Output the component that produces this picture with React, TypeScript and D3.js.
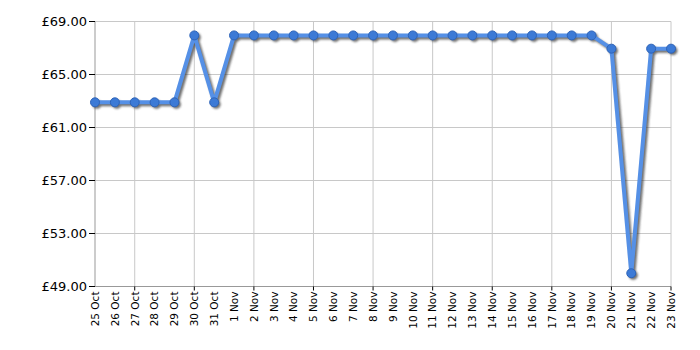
import React from "react";
import * as d3 from "d3";

const dates = [
  "25 Oct", "26 Oct", "27 Oct", "28 Oct", "29 Oct", "30 Oct", "31 Oct",
  "1 Nov", "2 Nov", "3 Nov", "4 Nov", "5 Nov", "6 Nov", "7 Nov", "8 Nov",
  "9 Nov", "10 Nov", "11 Nov", "12 Nov", "13 Nov", "14 Nov", "15 Nov",
  "16 Nov", "17 Nov", "18 Nov", "19 Nov", "20 Nov", "21 Nov", "22 Nov", "23 Nov",
];
const prices = [
  62.9, 62.9, 62.9, 62.9, 62.9, 67.95, 62.9,
  67.95, 67.95, 67.95, 67.95, 67.95, 67.95, 67.95, 67.95,
  67.95, 67.95, 67.95, 67.95, 67.95, 67.95, 67.95,
  67.95, 67.95, 67.95, 67.95, 66.95, 50.0, 66.95, 66.95,
];
const yTicks = [49, 53, 57, 61, 65, 69];

const W = 700, H = 350;
const left = 95, right = 671, top = 21.5, bottom = 286.5;

export default function App() {
  const x = d3.scalePoint<string>().domain(dates).range([left, right]);
  const y = d3.scaleLinear().domain([49, 69]).range([bottom, top]);
  const line = d3.line<number>().x((_, i) => x(dates[i])!).y((d) => y(d));
  const path = line(prices) || "";
  const gridDates = dates.filter((_, i) => i >= 2 && (i - 2) % 3 === 0);
  const font = "Verdana, 'DejaVu Sans', sans-serif";

  return (
    <svg width={W} height={H} style={{ position: "absolute", left: 0, top: 0 }}>
      <defs>
        <filter id="sh" x="-10%" y="-10%" width="120%" height="120%">
          <feGaussianBlur stdDeviation="1" />
        </filter>
      </defs>
      <rect width={W} height={H} fill="#fff" />
      {yTicks.filter((t) => t !== 49).map((t) => (
        <line key={t} x1={left} x2={right} y1={y(t)} y2={y(t)} stroke="#c8c8c8" />
      ))}
      {gridDates.map((d) => (
        <line key={d} x1={x(d)} x2={x(d)} y1={top} y2={bottom} stroke="#c8c8c8" />
      ))}
      <line x1={left} x2={left} y1={top} y2={bottom} stroke="#999" />
      <line x1={left} x2={right} y1={bottom} y2={bottom} stroke="#999" />
      {yTicks.map((t) => (
        <g key={t}>
          <line x1={left - 6} x2={left} y1={y(t)} y2={y(t)} stroke="#000" />
          <text x={left - 8} y={y(t)} dy="0.35em" textAnchor="end" fontFamily={font} fontSize={13} fill="#000">
            {"£" + t.toFixed(2)}
          </text>
        </g>
      ))}
      {gridDates.map((d) => (
        <line key={"t" + d} x1={x(d)} x2={x(d)} y1={bottom} y2={bottom + 4} stroke="#000" />
      ))}
      {dates.map((d) => (
        <text
          key={"l" + d}
          transform={`translate(${x(d)! + 3.8},${bottom + 5}) rotate(-90)`}
          textAnchor="end"
          fontFamily={font}
          fontSize={10.5}
          fill="#000"
        >
          {d}
        </text>
      ))}
      <g transform="translate(2,2)" filter="url(#sh)" opacity={0.7}>
        <path d={path} fill="none" stroke="#333" strokeWidth={4} strokeLinejoin="round" />
        {prices.map((p, i) => (
          <circle key={i} cx={x(dates[i])} cy={y(p)} r={4.5} fill="#333" />
        ))}
      </g>
      <path d={path} fill="none" stroke="#5590e6" strokeWidth={4} strokeLinejoin="round" />
      {prices.map((p, i) => (
        <circle key={"c" + i} cx={x(dates[i])} cy={y(p)} r={4.5} fill="#3c7ad6" stroke="#2d63b8" strokeWidth={1} />
      ))}
    </svg>
  );
}
